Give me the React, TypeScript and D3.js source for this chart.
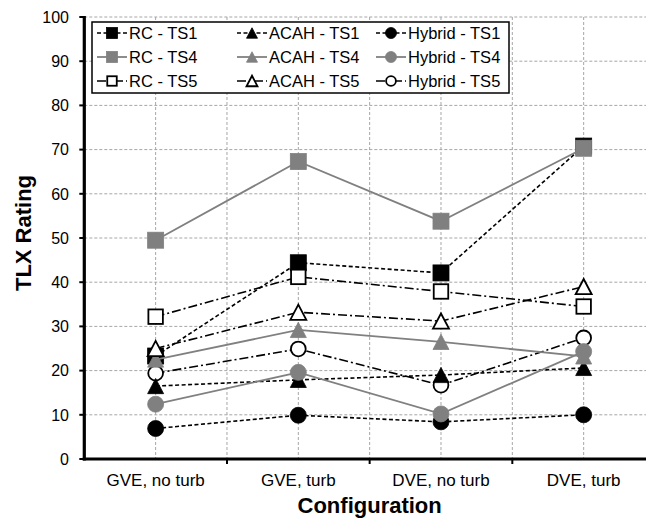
import React from 'react';
import * as d3 from 'd3';

// Data
const categories = ['GVE, no turb', 'GVE, turb', 'DVE, no turb', 'DVE, turb'];
const yTicks = [0, 10, 20, 30, 40, 50, 60, 70, 80, 90, 100];

const rcTS1 = [23.3, 44.4, 42.1, 70.8];
const rcTS4 = [49.5, 67.3, 53.8, 70.3];
const rcTS5 = [32.2, 41.2, 37.9, 34.5];
const acahTS1 = [16.5, 17.9, 19.0, 20.6];
const acahTS4 = [22.5, 29.2, 26.5, 23.2];
const acahTS5 = [25.0, 33.2, 31.2, 39.0];
const hybridTS1 = [6.9, 9.9, 8.4, 10.0];
const hybridTS4 = [12.4, 19.6, 10.2, 24.3];
const hybridTS5 = [19.4, 24.9, 16.7, 27.4];

type Shape = 'square' | 'triangle' | 'circle';
type Kind = 'TS1' | 'TS4' | 'TS5';

interface Series {
  name: string;
  shape: Shape;
  kind: Kind;
  values: number[];
}

// legend order (row-wise), and draw order
const legendSeries: Series[] = [
  { name: 'RC - TS1', shape: 'square', kind: 'TS1', values: rcTS1 },
  { name: 'ACAH - TS1', shape: 'triangle', kind: 'TS1', values: acahTS1 },
  { name: 'Hybrid - TS1', shape: 'circle', kind: 'TS1', values: hybridTS1 },
  { name: 'RC - TS4', shape: 'square', kind: 'TS4', values: rcTS4 },
  { name: 'ACAH - TS4', shape: 'triangle', kind: 'TS4', values: acahTS4 },
  { name: 'Hybrid - TS4', shape: 'circle', kind: 'TS4', values: hybridTS4 },
  { name: 'RC - TS5', shape: 'square', kind: 'TS5', values: rcTS5 },
  { name: 'ACAH - TS5', shape: 'triangle', kind: 'TS5', values: acahTS5 },
  { name: 'Hybrid - TS5', shape: 'circle', kind: 'TS5', values: hybridTS5 },
];
const drawOrder = [
  'RC - TS1', 'RC - TS4', 'RC - TS5', 'Hybrid - TS5', 'Hybrid - TS1',
  'ACAH - TS1', 'ACAH - TS4', 'ACAH - TS5', 'Hybrid - TS4',
];

const kindStyle: Record<Kind, { stroke: string; dash: string | undefined; width: number; fill: string; mstroke: string }> = {
  TS1: { stroke: '#000', dash: '4,2.5', width: 1.6, fill: '#000', mstroke: '#000' },
  TS4: { stroke: '#808080', dash: undefined, width: 1.8, fill: '#808080', mstroke: '#808080' },
  TS5: { stroke: '#000', dash: '9,3,2,3', width: 1.6, fill: '#fff', mstroke: '#000' },
};

const W = 646;
const H = 519;
const left = 84.3;
const right = 655;
const top = 17;
const bottom = 459;

function Marker({ shape, kind, x, y, size }: { shape: Shape; kind: Kind; x: number; y: number; size: number }) {
  const st = kindStyle[kind];
  const sw = kind === 'TS5' ? 1.8 : 0.8;
  const h = size / 2;
  if (shape === 'square') {
    const s = size - (kind === 'TS5' ? 1.5 : 0);
    return <rect x={x - s / 2} y={y - s / 2} width={s} height={s} fill={st.fill} stroke={st.mstroke} strokeWidth={sw} />;
  }
  if (shape === 'circle') {
    return <circle cx={x} cy={y} r={h - (kind === 'TS5' ? 0.6 : 0)} fill={st.fill} stroke={st.mstroke} strokeWidth={sw} />;
  }
  const th = size * 0.95;
  const p = d3.path();
  p.moveTo(x, y - th / 2);
  p.lineTo(x + h, y + th / 2);
  p.lineTo(x - h, y + th / 2);
  p.closePath();
  return <path d={p.toString()} fill={st.fill} stroke={st.mstroke} strokeWidth={sw} strokeLinejoin="miter" />;
}

export default function App() {
  const x = d3.scaleBand<string>().domain(categories).range([left, right]).padding(0);
  const cx = (c: string) => (x(c) as number) + x.bandwidth() / 2;
  const y = d3.scaleLinear().domain([0, 100]).range([bottom, top]);

  const line = d3
    .line<number>()
    .x((_, i) => cx(categories[i]))
    .y((d) => y(d));

  const bounds = categories.slice(1).map((c) => x(c) as number);
  const ordered = drawOrder.map((n) => legendSeries.find((s) => s.name === n)!);

  const legendCols = [97, 237, 376];
  const legendRows = [33, 57, 81];

  return (
    <svg
      width={W}
      height={H}
      style={{ position: 'absolute', left: 0, top: 0, background: '#fff' }}
      fontFamily="'Liberation Sans', Arial, sans-serif"
    >
      <rect width={W} height={H} fill="#fff" />
      {/* grid */}
      <g stroke="#a6a6a6" strokeWidth={1} strokeDasharray="3,2" fill="none">
        {yTicks.slice(1).map((t) => (
          <line key={'h' + t} x1={left} x2={right} y1={y(t)} y2={y(t)} />
        ))}
        {categories.map((c) => (
          <line key={'vc' + c} x1={cx(c)} x2={cx(c)} y1={top} y2={bottom} />
        ))}
        {bounds.map((b) => (
          <line key={'vb' + b} x1={b} x2={b} y1={top} y2={bottom} />
        ))}
      </g>

      {/* series */}
      {ordered.map((s) => {
        const st = kindStyle[s.kind];
        return (
          <g key={s.name}>
            <path d={line(s.values) || ''} fill="none" stroke={st.stroke} strokeWidth={st.width} strokeDasharray={st.dash} />
            {s.values.map((v, i) => (
              <Marker key={i} shape={s.shape} kind={s.kind} x={cx(categories[i])} y={y(v)} size={16} />
            ))}
          </g>
        );
      })}

      {/* axes */}
      <g stroke="#000">
        <line x1={left} x2={left} y1={top - 1} y2={bottom + 1.5} strokeWidth={3.2} />
        <line x1={left - 1.5} x2={W + 10} y1={bottom} y2={bottom} strokeWidth={3.2} />
        {yTicks.map((t) => (
          <line key={'yt' + t} x1={left - 5} x2={left} y1={y(t)} y2={y(t)} strokeWidth={2} />
        ))}
        {bounds.map((b) => (
          <line key={'xt' + b} x1={b} x2={b} y1={bottom} y2={bottom + 5} strokeWidth={2} />
        ))}
      </g>
      <g fontSize={16} fill="#000" textAnchor="end">
        {yTicks.map((t) => (
          <text key={'yl' + t} x={69} y={y(t)} dy="0.36em">
            {t}
          </text>
        ))}
      </g>
      <g fontSize={17} fill="#000" textAnchor="middle">
        {categories.map((c) => (
          <text key={'xl' + c} x={cx(c)} y={486}>
            {c}
          </text>
        ))}
      </g>
      <text x={(left + right) / 2} y={513} textAnchor="middle" fontSize={22} fontWeight="bold">
        Configuration
      </text>
      <text transform={`translate(31,${(top + bottom) / 2 - 5}) rotate(-90)`} textAnchor="middle" fontSize={22} fontWeight="bold">
        TLX Rating
      </text>

      {/* legend */}
      <rect x={92} y={22} width={417} height={71} fill="#fff" stroke="#000" strokeWidth={1.5} />
      {legendSeries.map((s, i) => {
        const col = i % 3;
        const row = Math.floor(i / 3);
        const lx = legendCols[col];
        const ly = legendRows[row];
        const st = kindStyle[s.kind];
        return (
          <g key={'lg' + s.name}>
            <line x1={lx} x2={lx + 30} y1={ly} y2={ly} stroke={st.stroke} strokeWidth={st.width} strokeDasharray={st.dash} />
            <Marker shape={s.shape} kind={s.kind} x={lx + 15} y={ly} size={11} />
            <text x={lx + 32} y={ly} dy="0.36em" fontSize={16.5} fill="#000">
              {s.name}
            </text>
          </g>
        );
      })}
    </svg>
  );
}
